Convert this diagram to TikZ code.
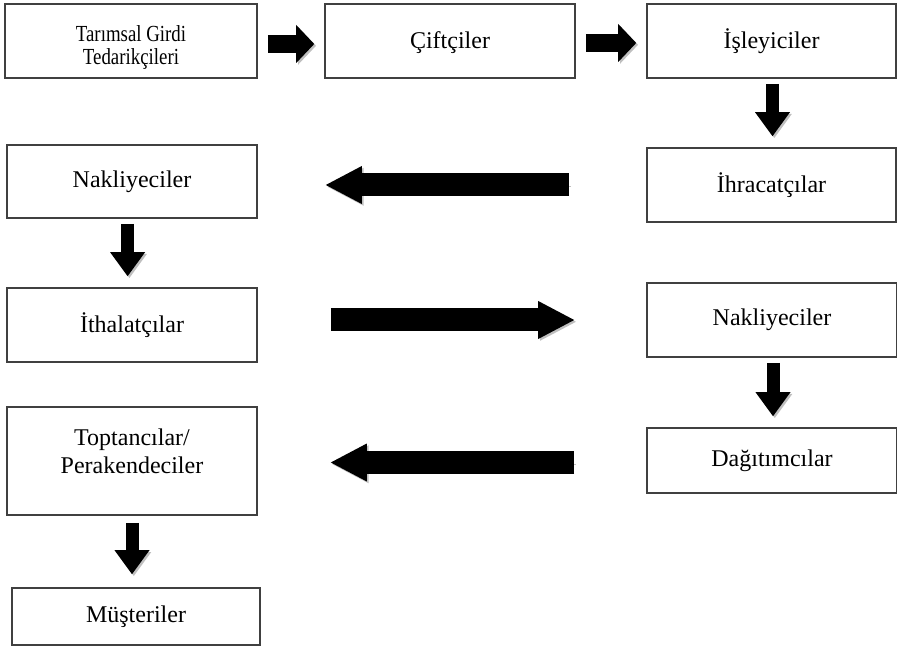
\documentclass[tikz,border=0pt]{standalone}
\usepackage{fontspec}
\setmainfont{Liberation Serif}
\newfontfamily\narrowserif[FakeStretch=0.82]{Liberation Serif}
\usetikzlibrary{positioning,arrows.meta,shadows}

\begin{document}
\begin{tikzpicture}
[x=0.5pt,y=-0.5pt,
box/.style={draw=black!75,line width=0.8pt,fill=white,align=center,
  font=\fontsize{12}{14}\selectfont,minimum width=125pt,minimum height=37pt,
  drop shadow={shadow xshift=0.7pt,shadow yshift=-0.7pt,fill=black!30,opacity=1}},
shade/.style={preaction={draw=black!25,transform canvas={shift={(0.9pt,-0.9pt)}}}},
sidearr/.style={shade,line width=9pt,-{Triangle[length=9pt,width=19pt,line width'=0pt]},
  shorten <=5pt,shorten >=5pt},
downarr/.style={shade,line width=6.5pt,-{Triangle[length=12pt,width=17.5pt,line width'=0pt]},
  shorten <=2.5pt,shorten >=5.5pt},
longarr/.style={shade,line width=11.5pt,-{Triangle[length=18pt,width=19pt,line width'=0pt]}}]
\useasboundingbox (0,0) rectangle (897,656);
\node[box,font=\narrowserif\fontsize{11.5}{11.5}\selectfont,minimum width=126pt](tedarik) at (131,41){\rule{0pt}{14.5pt}Tarımsal Girdi\\Tedarikçileri};
\node[box](ciftci) at (450,41){\rule{0pt}{10pt}Çiftçiler};
\node[box,minimum width=124.5pt](isleyici) at (771.5,41){İşleyiciler};
\node[box,minimum width=124.5pt](ihracat) at (771.5,185){İhracatçılar};
\node[box,minimum height=36.5pt](nakliye) at (132,181.5){Nakliyeciler};
\node[box](ithalat) at (132,325){İthalatçılar};
\node[box](tasiyici) at (772,320){Nakliyeciler};
\node[box,minimum height=32.5pt](dagitim) at (772,460.5){Dağıtımcılar};
\node[box,minimum height=54pt](toptan) at (132,461){Toptancılar/\\Perakendeciler\\[-4pt]\mbox{}};
\node[box,minimum width=124pt,minimum height=28.5pt](musteri) at (136,616.5){Müşteriler};
\draw[sidearr] ([yshift=-1.5pt]tedarik.east) -- ([yshift=-1.5pt]ciftci.west);
\draw[sidearr] ([yshift=-1pt]ciftci.west -| ciftci.east) -- ([yshift=-1pt]isleyici.west);
\draw[downarr] ([xshift=0.5pt]isleyici.south) -- ([xshift=0.5pt]ihracat.north);
\draw[longarr,shorten <=38.5pt,shorten >=34pt] (ihracat.west) -- (ihracat.west -| nakliye.east);
\draw[downarr] ([xshift=-2.2pt]nakliye.south) -- ([xshift=-2.2pt]ithalat.north);
\draw[longarr,shorten <=36.5pt,shorten >=36pt] (ithalat.east |- tasiyici.west) -- (tasiyici.west);
\draw[downarr] ([xshift=0.5pt]tasiyici.south) -- ([xshift=0.5pt]dagitim.north);
\draw[longarr,shorten <=36pt,shorten >=36.5pt] ([yshift=-1pt]dagitim.west) -- ([yshift=-1pt]dagitim.west -| toptan.east);
\draw[downarr,shorten <=3.5pt,shorten >=6.5pt] (toptan.south) -- (toptan.south |- musteri.north);
\end{tikzpicture}
\end{document}
